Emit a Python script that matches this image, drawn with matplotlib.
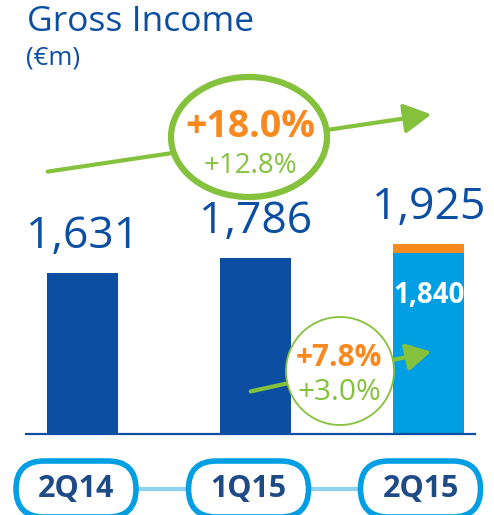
import matplotlib
matplotlib.use("Agg")
import matplotlib.pyplot as plt
from matplotlib.patches import Ellipse, Circle, FancyBboxPatch, FancyArrowPatch

plt.rcParams["font.family"] = ["Open Sans", "DejaVu Sans"]

# data
quarters = ["2Q14", "1Q15", "2Q15"]
gross_income = [1631, 1786, 1925]
underlying_2q15 = 1840
yoy_growth = ["+18.0%", "+12.8%"]
qoq_growth = ["+7.8%", "+3.0%"]

DARK_BLUE = "#0B4EA2"
LIGHT_BLUE = "#009EE2"
ORANGE = "#F7891E"
GREEN = "#84C13C"
NAVY = "#1E4A85"
PILL_LINK = "#8ED3F2"

W, H = 494, 515
fig = plt.figure(figsize=(W / 100, H / 100), dpi=100)

# bar axes: baseline at y=434 px, ~0.0985 px per €m
base_px = 434
scale = 0.0985
step = 173.0
x0 = 82.5
ax = fig.add_axes([0, 1 - base_px / H, 1, base_px / H])
ax.set_xlim(-x0 / step, (W - x0) / step)
ax.set_ylim(0, base_px / scale)
ax.axis("off")

xs = list(range(len(quarters)))
bar_w = 71 / step
ax.bar(xs[:2], gross_income[:2], width=bar_w, color=DARK_BLUE, zorder=2)
ax.bar(xs[2], underlying_2q15, width=bar_w, color=LIGHT_BLUE, zorder=2)
ax.bar(xs[2], gross_income[2] - underlying_2q15, bottom=underlying_2q15,
       width=bar_w, color=ORANGE, zorder=2)
ax.axhline(0, xmin=26 / W, xmax=475 / W, color=DARK_BLUE, lw=1.6, clip_on=False, zorder=3)

for i, v in enumerate(gross_income):
    ax.annotate(f"{v:,}", (xs[i], v), xytext=(0, 26.5), textcoords="offset points",
                ha="center", va="center", fontsize=32, color=DARK_BLUE)
ax.annotate(f"{underlying_2q15:,}", (xs[2], underlying_2q15), xytext=(0, -31),
            textcoords="offset points", ha="center", va="center", fontsize=20,
            fontweight="bold", color="white", zorder=4)

# overlay in pixel coordinates for the decorations
ov = fig.add_axes([0, 0, 1, 1], zorder=5)
ov.set_xlim(0, W)
ov.set_ylim(H, 0)
ov.axis("off")
ov.patch.set_alpha(0)

ov.text(27, 22, "Gross Income", fontsize=25.5, color=DARK_BLUE, ha="left", va="center")
ov.text(26, 58, "(€m)", fontsize=18.5, color=DARK_BLUE, ha="left", va="center")

# year-on-year arrow and ellipse
ov.add_patch(FancyArrowPatch((45, 172), (434, 114), arrowstyle="-|>,head_length=1.1,head_width=0.6",
                             mutation_scale=15, color=GREEN, lw=3, zorder=1))
ov.add_patch(Ellipse((249, 137), 156, 120, facecolor="white", edgecolor=GREEN, lw=4.5, zorder=2))
ov.text(250, 127, yoy_growth[0], fontsize=27, fontweight="bold", color=ORANGE,
        ha="center", va="center", zorder=3)
ov.text(250, 166, yoy_growth[1], fontsize=20, color=GREEN, ha="center", va="center", zorder=3)

# quarter-on-quarter arrow and circle
ov.add_patch(FancyArrowPatch((248, 392), (434, 351), arrowstyle="-|>,head_length=1.0,head_width=0.55",
                             mutation_scale=15, color=GREEN, lw=3, zorder=1))
ov.add_patch(Circle((340, 371), 54, facecolor="white", edgecolor=GREEN, lw=1.3, zorder=2))
ov.text(339, 358, qoq_growth[0], fontsize=21.5, fontweight="bold", color=ORANGE,
        ha="center", va="center", zorder=3)
ov.text(339, 393, qoq_growth[1], fontsize=21.5, color=GREEN, ha="center", va="center", zorder=3)

# quarter pills
pill_x = [76, 248.5, 420.5]
pill_w, pill_h = 120, 56
pill_y = 489
ov.plot([pill_x[0], pill_x[-1]], [pill_y, pill_y], color=PILL_LINK, lw=3, zorder=1)
for px, q in zip(pill_x, quarters):
    ov.add_patch(FancyBboxPatch((px - pill_w / 2 + pill_h / 2, pill_y),
                                pill_w - pill_h, 0,
                                boxstyle=f"round,pad={pill_h / 2},rounding_size={pill_h / 2}",
                                facecolor="white", edgecolor=LIGHT_BLUE, lw=4, zorder=2))
    ov.text(px, pill_y, q, fontsize=22, fontweight="bold", color=NAVY,
            ha="center", va="center", zorder=3)

fig.savefig("out.png", dpi=100)
